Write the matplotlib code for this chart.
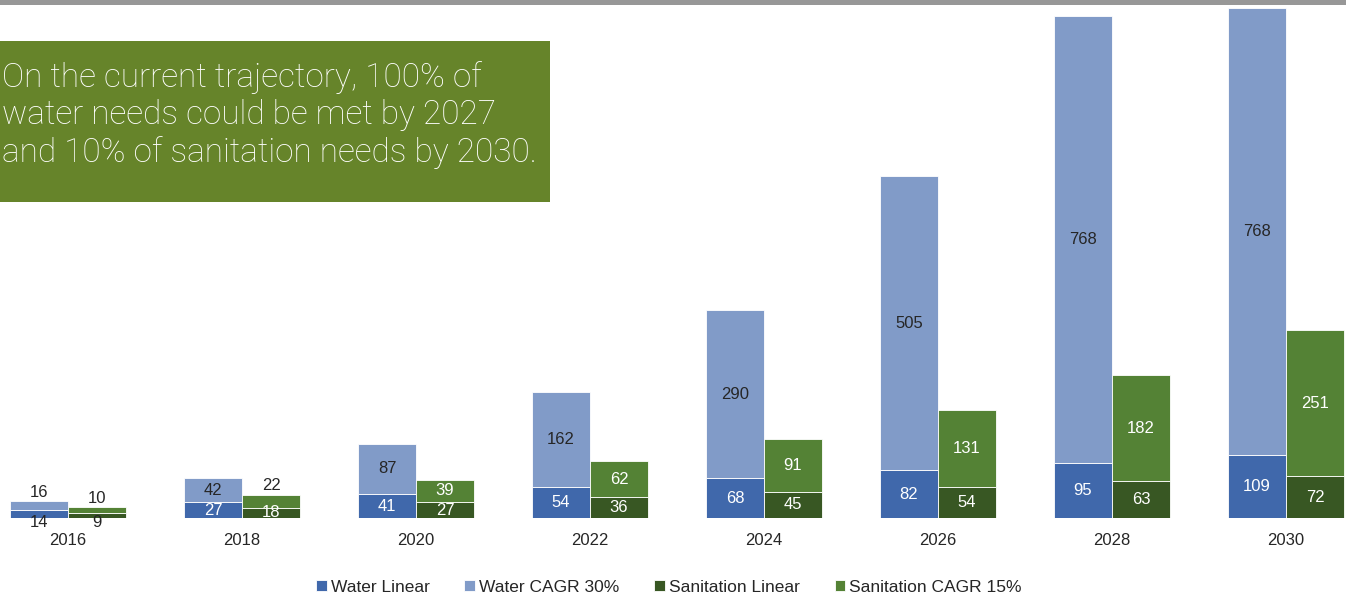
import matplotlib
matplotlib.use("Agg")
import matplotlib.pyplot as plt
from matplotlib.patches import Rectangle
import numpy as np

years = ["2016", "2018", "2020", "2022", "2024", "2026", "2028", "2030"]
water_linear = [14, 27, 41, 54, 68, 82, 95, 109]
water_cagr = [16, 42, 87, 162, 290, 505, 768, 768]
san_linear = [9, 18, 27, 36, 45, 54, 63, 72]
san_cagr = [10, 22, 39, 62, 91, 131, 182, 251]

c_wl = "#4068ab"
c_wc = "#819bc8"
c_sl = "#385723"
c_sc = "#548235"
dark = "#262626"

W, H = 1346, 594
fig = plt.figure(figsize=(W / 100, H / 100), dpi=100)
plt.rcParams['font.family'] = ['Liberation Sans', 'DejaVu Sans']

base_px = 518
scale = 0.582  # px per unit
ax = fig.add_axes([0, (H - base_px) / H, 1, base_px / H])
ax.set_ylim(0, base_px / scale)
ax.set_xlim(-68 / 174, (W - 68) / 174)
for s in ax.spines.values():
    s.set_visible(False)
ax.set_yticks([])

x = np.arange(len(years))
bw = 1 / 3
ax.bar(x - bw / 2, water_linear, bw, color=c_wl, edgecolor="white", linewidth=0.6, label="Water Linear")
ax.bar(x - bw / 2, water_cagr, bw, bottom=water_linear, color=c_wc, edgecolor="white", linewidth=0.6, label="Water CAGR 30%")
ax.bar(x + bw / 2, san_linear, bw, color=c_sl, edgecolor="white", linewidth=0.6, label="Sanitation Linear")
ax.bar(x + bw / 2, san_cagr, bw, bottom=san_linear, color=c_sc, edgecolor="white", linewidth=0.6, label="Sanitation CAGR 15%")

ax.set_xticks(x)
ax.set_xticklabels(years, fontsize=12, color=dark)
ax.tick_params(axis="x", length=0, pad=10.5)

fs = 12
for i in range(len(years)):
    xw = x[i] - bw / 2
    xs = x[i] + bw / 2
    wl, wc, sl, sc = water_linear[i], water_cagr[i], san_linear[i], san_cagr[i]
    if i == 0:
        ax.annotate(str(wc), (xw, wl + wc), xytext=(0, 6), textcoords="offset points",
                    ha="center", va="center", fontsize=fs, color=dark)
        ax.annotate(str(wl), (xw, 0), xytext=(0, -3.5), textcoords="offset points",
                    ha="center", va="center", fontsize=fs, color=dark)
        ax.annotate(str(sc), (xs, sl + sc), xytext=(0, 6), textcoords="offset points",
                    ha="center", va="center", fontsize=fs, color=dark)
        ax.annotate(str(sl), (xs, 0), xytext=(0, -3.5), textcoords="offset points",
                    ha="center", va="center", fontsize=fs, color=dark)
        continue
    ax.text(xw, wl / 2, str(wl), ha="center", va="center", fontsize=fs, color="white")
    ax.text(xw, wl + wc / 2, str(wc), ha="center", va="center", fontsize=fs, color=dark)
    ax.text(xs, sl / 2, str(sl), ha="center", va="center", fontsize=fs, color="white")
    if i == 1:
        ax.annotate(str(sc), (xs, sl + sc), xytext=(0, 6.5), textcoords="offset points",
                    ha="center", va="center", fontsize=fs, color=dark)
    else:
        ax.text(xs, sl + sc / 2, str(sc), ha="center", va="center", fontsize=fs, color="white")

# top gray rule
fig.patches.append(Rectangle((0, (H - 4.5) / H), 1, 4.5 / H, transform=fig.transFigure,
                             facecolor="#979797", edgecolor="none", zorder=5))

# green callout box
fig.patches.append(Rectangle((0, (H - 202) / H), 550 / W, 161 / H, transform=fig.transFigure,
                             facecolor="#66842a", edgecolor="none", zorder=5))
fig.text(2 / W, (H - 115) / H,
         "On the current trajectory, 100% of\nwater needs could be met by 2027\nand 10% of sanitation needs by 2030.",
         family=["Roboto", "DejaVu Sans"], fontweight="light", fontsize=24, color="white",
         ha="left", va="center", linespacing=1.21, zorder=6)

fig.legend(loc="center", bbox_to_anchor=(0.497, 7 / H), ncol=4, frameon=False,
           fontsize=12.5, handlelength=0.6, handleheight=0.6, handletextpad=0.25,
           columnspacing=2.0, labelcolor=dark)

fig.savefig("out.png", dpi=100)
